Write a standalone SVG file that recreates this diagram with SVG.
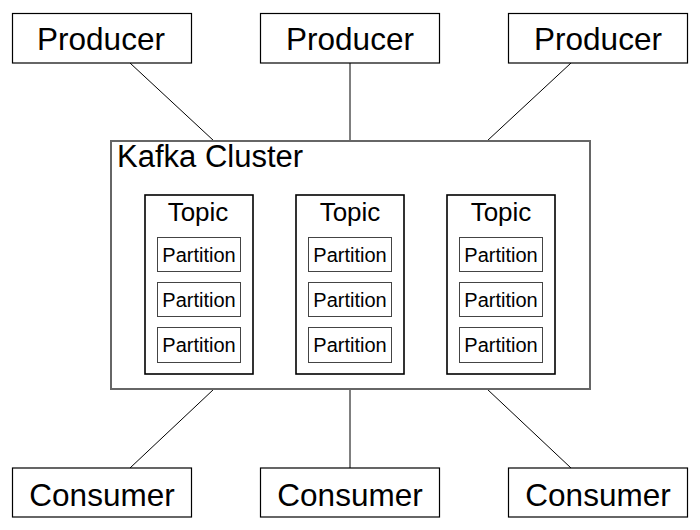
<svg xmlns="http://www.w3.org/2000/svg" width="700" height="530" viewBox="0 0 700 530">
<style>
text{font-family:"Liberation Sans",Arial,sans-serif;fill:#000}
.box{fill:#fff;stroke:#000;stroke-width:1.2}
.cluster{fill:#fff;stroke:#666;stroke-width:2}
.topic{fill:#fff;stroke:#000;stroke-width:1.6}
.part{fill:#fff;stroke:#444;stroke-width:1}
.big{font-size:31.5px;text-anchor:middle}
.tp{font-size:26px;text-anchor:middle}
.pt{font-size:20px;text-anchor:middle}
.conn line{stroke:#000;stroke-width:1}
</style>
<rect width="700" height="530" fill="#fff"/>
<g id="connectors" class="conn">
<line x1="130" y1="63" x2="214" y2="141"/>
<line x1="350" y1="63" x2="350" y2="141"/>
<line x1="571" y1="63" x2="487" y2="141"/>
<line x1="214" y1="389" x2="130" y2="468"/>
<line x1="350" y1="389" x2="350" y2="468"/>
<line x1="487" y1="389" x2="571" y2="468"/>
</g>
<g id="producer1"><rect class="box" x="12.5" y="13.5" width="179" height="49.5"/><text class="big" x="101" y="49.5">Producer</text></g>
<g id="producer2"><rect class="box" x="260.5" y="13.5" width="179" height="49.5"/><text class="big" x="350" y="49.5">Producer</text></g>
<g id="producer3"><rect class="box" x="508.5" y="13.5" width="179" height="49.5"/><text class="big" x="598" y="49.5">Producer</text></g>
<g id="cluster">
<rect class="cluster" x="111" y="141" width="479" height="248"/>
<text x="117" y="167" font-size="31">Kafka Cluster</text>
</g>
<g id="topic1">
<rect class="topic" x="145" y="195" width="108" height="179"/>
<text class="tp" x="198" y="221">Topic</text>
<g id="t1p1"><rect class="part" x="157.5" y="237.5" width="83" height="34"/><text class="pt" x="199" y="261.5">Partition</text></g>
<g id="t1p2"><rect class="part" x="157.5" y="282.5" width="83" height="34"/><text class="pt" x="199" y="307">Partition</text></g>
<g id="t1p3"><rect class="part" x="157.5" y="327.5" width="83" height="35"/><text class="pt" x="199" y="352">Partition</text></g>
</g>
<g id="topic2">
<rect class="topic" x="296" y="195" width="108" height="179"/>
<text class="tp" x="350" y="221">Topic</text>
<g id="t2p1"><rect class="part" x="308.5" y="237.5" width="83" height="34"/><text class="pt" x="350" y="261.5">Partition</text></g>
<g id="t2p2"><rect class="part" x="308.5" y="282.5" width="83" height="34"/><text class="pt" x="350" y="307">Partition</text></g>
<g id="t2p3"><rect class="part" x="308.5" y="327.5" width="83" height="35"/><text class="pt" x="350" y="352">Partition</text></g>
</g>
<g id="topic3">
<rect class="topic" x="447" y="195" width="108" height="179"/>
<text class="tp" x="501" y="221">Topic</text>
<g id="t3p1"><rect class="part" x="459.5" y="237.5" width="83" height="34"/><text class="pt" x="501" y="261.5">Partition</text></g>
<g id="t3p2"><rect class="part" x="459.5" y="282.5" width="83" height="34"/><text class="pt" x="501" y="307">Partition</text></g>
<g id="t3p3"><rect class="part" x="459.5" y="327.5" width="83" height="35"/><text class="pt" x="501" y="352">Partition</text></g>
</g>
<g id="consumer1"><rect class="box" x="12.5" y="468" width="179" height="49"/><text class="big" x="102" y="505.5">Consumer</text></g>
<g id="consumer2"><rect class="box" x="260.5" y="468" width="179" height="49"/><text class="big" x="350" y="505.5">Consumer</text></g>
<g id="consumer3"><rect class="box" x="508.5" y="468" width="179" height="49"/><text class="big" x="598" y="505.5">Consumer</text></g>
</svg>
